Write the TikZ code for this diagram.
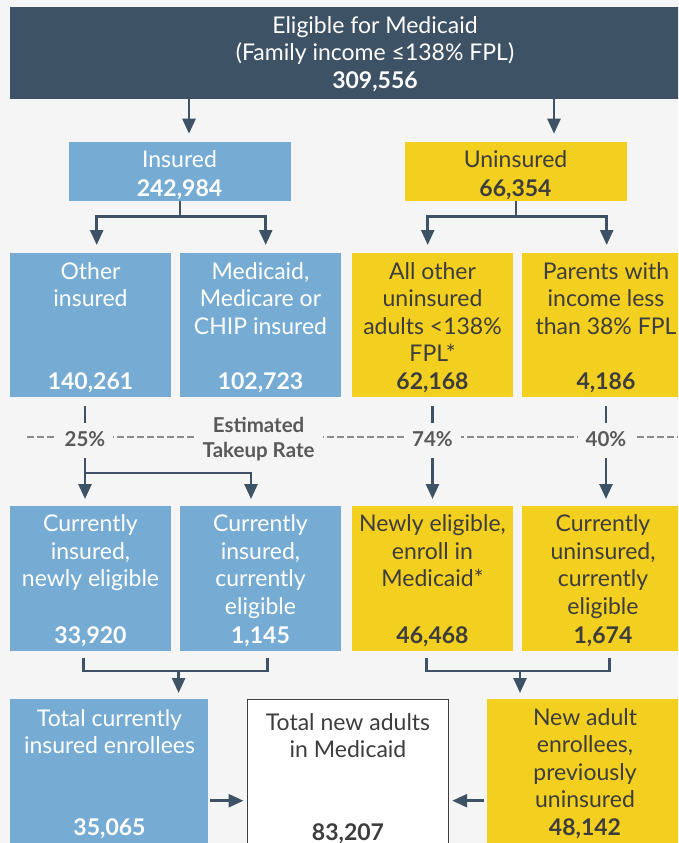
\documentclass[tikz,border=0pt]{standalone}
\usepackage{fontspec}
\setmainfont{Lato}
\usetikzlibrary{arrows.meta, positioning}
\definecolor{bgcol}{HTML}{F5F5F5}
\definecolor{slate}{HTML}{3E5265}
\definecolor{insblue}{HTML}{76ACD3}
\definecolor{uninsyel}{HTML}{F3CF1F}
\definecolor{txtdark}{HTML}{3D3D3D}
\definecolor{rategray}{HTML}{8C8C8C}
\definecolor{labgray}{HTML}{595959}

\begin{document}
\begin{tikzpicture}[x=1pt,y=-1pt,
    box/.style={rectangle,inner sep=0pt,anchor=north west},
    bbox/.style={box,fill=insblue},
    ybox/.style={box,fill=uninsyel},
    txt/.style={align=center,anchor=base,font=\fontsize{23}{27.6}\selectfont},
    num/.style={anchor=base,font=\fontsize{23}{27.6}\selectfont\bfseries},
    link/.style={draw=slate,line width=2.6pt},
    arr/.style={link,-{Triangle[width=13pt,length=15pt]}},
    rate/.style={fill=bgcol,text=labgray,inner xsep=8pt,inner ysep=3pt,
      text height=15pt,text depth=0pt,font=\fontsize{20.5}{25}\selectfont\bfseries}]

    \useasboundingbox (0,0) rectangle (678,843);
    \fill[bgcol] (0,0) rectangle (678,843);
    \clip (0,0) rectangle (678,843);

    % boxes
    \node[box,fill=slate,minimum width=740pt,minimum height=91.5pt] (elig) at (9.5,7) {};
    \node[bbox,minimum width=221.5pt,minimum height=59pt] (ins)   at (69,141.7) {};
    \node[ybox,minimum width=221.5pt,minimum height=59pt] (unins) at (405,141.7) {};

    \node[bbox,minimum width=161pt,minimum height=144pt] (oth)  at (10,253) {};
    \node[bbox,minimum width=161pt,minimum height=144pt] (mmc)  at (180,253) {};
    \node[ybox,minimum width=161pt,minimum height=144pt] (allo) at (352,253) {};
    \node[ybox,minimum width=175pt,minimum height=144pt] (par)  at (522,253) {};

    \node[bbox,minimum width=161pt,minimum height=144.7pt] (cin)  at (10,506) {};
    \node[bbox,minimum width=161pt,minimum height=144.7pt] (ccur) at (180,506) {};
    \node[ybox,minimum width=161pt,minimum height=144.7pt] (newl) at (352,506) {};
    \node[ybox,minimum width=175pt,minimum height=144.7pt] (cun)  at (522,506) {};

    \node[bbox,minimum width=198.5pt,minimum height=160pt] (tot) at (9.5,699) {};
    \node[box,fill=white,draw=txtdark,line width=1.2pt,minimum width=201pt,minimum height=160pt] (newad) at (246.5,699) {};
    \node[ybox,minimum width=200pt,minimum height=160pt] (prev) at (487,699) {};

    % texts (base = last line)
    \node[txt,text=white] (eligtxt) at (375,88.2) {Eligible for Medicaid\\(Family income ≤138\% FPL)\\\textbf{309,556}};
    \node[txt,text=white] (instxt) at (179.5,196) {Insured\\[1.4pt]\textbf{242,984}};
    \node[txt,text=txtdark] (uninstxt) at (515.5,196) {Uninsured\\[1.4pt]\textbf{66,354}};

    \node[txt,text=white] at (90.5,306.6) {Other\\insured};
    \node[txt,text=white] at (260.5,334.2) {Medicaid,\\Medicare or\\CHIP insured};
    \node[txt,text=txtdark] at (432.5,361.8) {All other\\uninsured\\adults <138\%\\FPL*};
    \node[txt,text=txtdark] at (606,334.2) {Parents with\\income less\\than 38\% FPL};
    \node[num,text=white] at (90.5,389) {140,261};
    \node[num,text=white] at (260.5,389) {102,723};
    \node[num,text=txtdark] at (432.5,389) {62,168};
    \node[num,text=txtdark] at (606,389) {4,186};

    \node[txt,text=white] at (90.5,586.7) {Currently\\insured,\\newly eligible};
    \node[txt,text=white] at (260.5,614.3) {Currently\\insured,\\currently\\eligible};
    \node[txt,text=txtdark] at (432.5,586.7) {Newly eligible,\\enroll in\\Medicaid*};
    \node[txt,text=txtdark] at (603,614.3) {Currently\\uninsured,\\currently\\eligible};
    \node[num,text=white] at (90.5,643) {33,920};
    \node[num,text=white] at (260.5,643) {1,145};
    \node[num,text=txtdark] at (432.5,643) {46,468};
    \node[num,text=txtdark] at (603,643) {1,674};

    \node[txt,text=white] at (109.5,753.6) {Total currently\\insured enrollees};
    \node[num,text=white] at (109.5,835) {35,065};
    \node[txt,text=txtdark] at (348,757.6) {Total new adults\\in Medicaid};
    \node[num,text=txtdark] at (348,840) {83,207};
    \node[txt,text=txtdark] at (585,807.8) {New adult\\enrollees,\\previously\\uninsured};
    \node[num,text=txtdark] at (585,835) {48,142};

    % takeup rate line
    \coordinate (rl) at (27,436.7);
    \coordinate (rr) at (678,436.7);
    \draw[rategray,line width=2.4pt,dash pattern=on 6.5pt off 3.5pt] (rl) -- (rr);
    \node[rate] (r25) at (85,438.5) {25\%};
    \node[rate] (r74) at (432.5,438.5) {74\%};
    \node[rate] (r40) at (606,438.5) {40\%};
    \node[rate,text height=,align=center,inner xsep=9pt] (est) at (258.6,437.5) {Estimated\\Takeup Rate};

    % connectors
    \coordinate (a1) at (189,0);
    \coordinate (a2) at (554,0);
    \draw[arr,shorten >=8pt] (elig.south -| a1) -- (ins.north -| a1);
    \draw[arr,shorten >=8pt] (elig.south -| a2) -- (unins.north -| a2);

    \coordinate (o1) at (96.7,0);
    \coordinate (o2) at (265.7,0);
    \coordinate (o3) at (427.7,0);
    \coordinate (o4) at (606.7,0);
    \draw[arr,shorten >=8pt] (ins.south) -- ++(0,15.3) -| (oth.north -| o1);
    \draw[arr,shorten >=8pt] (ins.south) ++(0,15.3) -| (mmc.north -| o2);
    \draw[arr,shorten >=8pt] (unins.south) -- ++(0,15.3) -| (allo.north -| o3);
    \draw[arr,shorten >=8pt] (unins.south) ++(0,15.3) -| (par.north -| o4);

    \draw[link,shorten <=9pt,shorten >=5pt] (oth.south -| r25) -- (r25.north);
    \draw[link,shorten <=9pt,shorten >=5pt] (allo.south -| r74) -- (r74.north);
    \draw[link,shorten <=9pt,shorten >=5pt] (par.south -| r40) -- (r40.north);
    \draw[arr,shorten <=9pt,shorten >=7pt] (r25.south) -- (r25 |- cin.north);
    \draw[arr,shorten <=9pt,shorten >=7pt] (r74.south) -- (r74 |- newl.north);
    \draw[arr,shorten <=9pt,shorten >=7pt] (r40.south) -- (r40 |- cun.north);
    \coordinate (b2) at (251,473);
    \draw[arr,shorten >=7pt] (r25 |- b2) -- (b2) -- (b2 |- ccur.north);

    \draw[link] ([xshift=-7pt,yshift=-6.5pt]cin.south) |- ([xshift=7pt,yshift=-20pt]ccur.south) -- ([xshift=7pt,yshift=-6.5pt]ccur.south);
    \draw[link] ([xshift=-6.5pt,yshift=-6.5pt]newl.south) |- ([yshift=-20pt]cun.south) -- ([yshift=-6.5pt]cun.south);
    \coordinate (jl) at (178.6,670.7);
    \coordinate (jr) at (520,670.7);
    \draw[arr,shorten >=6pt] (jl) -- (jl |- tot.north);
    \draw[arr,shorten >=6pt] (jr) -- (jr |- prev.north);

    \coordinate (jh) at (0,800.7);
    \draw[arr,shorten <=2pt,shorten >=3pt] (tot.east |- jh) -- (newad.west |- jh);
    \draw[arr,shorten <=3pt,shorten >=3.5pt] (prev.west |- jh) -- (newad.east |- jh);
\end{tikzpicture}
\end{document}
